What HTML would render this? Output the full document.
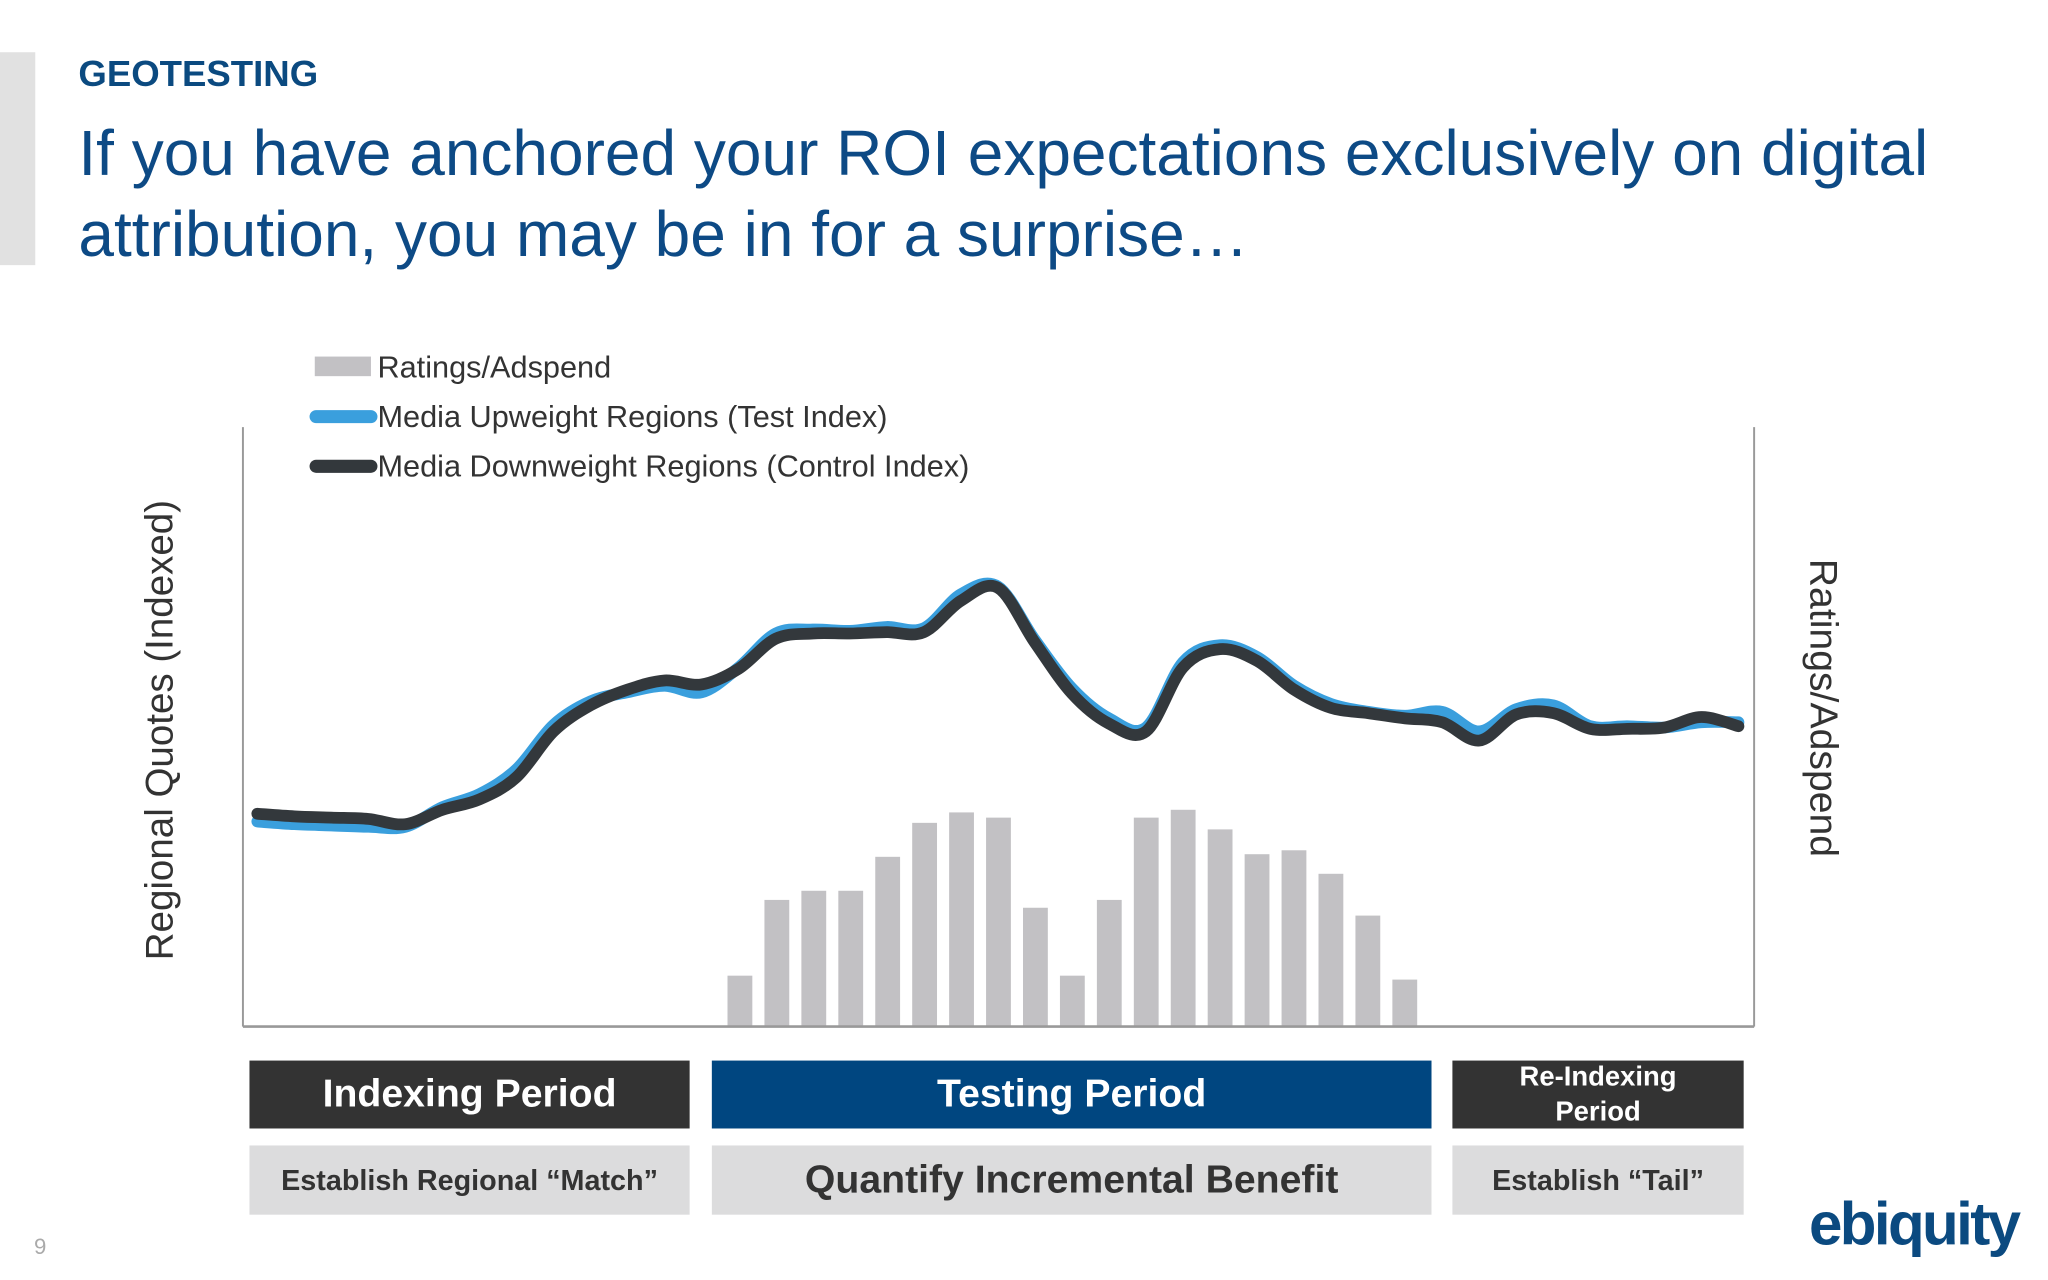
<!DOCTYPE html>
<html><head><meta charset="utf-8"><style>
html,body{margin:0;padding:0;background:#fff;overflow:hidden}
#wrap{position:absolute;left:0;top:0;width:1568px;height:980px;transform:scale(1.30612);transform-origin:0 0;font-family:"Liberation Sans",sans-serif}
.abs{position:absolute}
.box{position:absolute;display:flex;align-items:center;justify-content:center;font-weight:bold;text-align:center}
</style></head><body>
<div id="wrap">
<div class="abs" style="left:0;top:40px;width:27px;height:163px;background:#e1e1e1"></div>
<div class="abs" style="left:60px;top:41px;font-size:28px;font-weight:bold;color:#0b4a80">GEOTESTING</div>
<div class="abs" style="left:60px;top:87px;font-size:49px;line-height:62px;color:#0d4a85;letter-spacing:0px">If you have anchored your ROI expectations exclusively on digital<br>attribution, you may be in for a surprise…</div>

<svg class="abs" style="left:0;top:0" width="1568" height="980">
<g id="legend" font-size="23.5" fill="#333">
<rect x="241" y="273" width="43" height="15" fill="#c2c1c4"/>
<text x="289" y="289">Ratings/Adspend</text>
<line x1="242" y1="319" x2="284" y2="319" stroke="#3a9fdd" stroke-width="10" stroke-linecap="round"/>
<text x="289" y="327">Media Upweight Regions (Test Index)</text>
<line x1="242" y1="357" x2="284" y2="357" stroke="#33383c" stroke-width="10" stroke-linecap="round"/>
<text x="289" y="365">Media Downweight Regions (Control Index)</text>
</g>
<line x1="186" y1="327" x2="186" y2="786" stroke="#999" stroke-width="1.5"/>
<line x1="1343" y1="327" x2="1343" y2="786" stroke="#999" stroke-width="1.5"/>
<g id="bars"></g>
<g id="lines"></g>
<line x1="186" y1="786" x2="1343" y2="786" stroke="#999" stroke-width="2"/>
<text transform="translate(132,559) rotate(-90)" text-anchor="middle" font-size="29.5" fill="#333">Regional Quotes (Indexed)</text>
<text transform="translate(1386,542) rotate(90)" text-anchor="middle" font-size="30" fill="#333">Ratings/Adspend</text>
</svg>

<div class="box" style="left:191px;top:812px;width:337px;height:52px;background:#333;color:#fff;font-size:30px">Indexing Period</div>
<div class="box" style="left:545px;top:812px;width:551px;height:52px;background:#004680;color:#fff;font-size:30px">Testing Period</div>
<div class="box" style="left:1112px;top:812px;width:223px;height:52px;background:#333;color:#fff;font-size:21px;line-height:27px">Re-Indexing<br>Period</div>
<div class="box" style="left:191px;top:877px;width:337px;height:53px;background:#dcdcdd;color:#333;font-size:22px">Establish Regional “Match”</div>
<div class="box" style="left:545px;top:877px;width:551px;height:53px;background:#dcdcdd;color:#333;font-size:30px">Quantify Incremental Benefit</div>
<div class="box" style="left:1112px;top:877px;width:223px;height:53px;background:#dcdcdd;color:#333;font-size:22px">Establish “Tail”</div>
<div class="abs" style="left:26px;top:945px;font-size:17px;color:#aaa">9</div>
<div class="abs" style="left:1385px;top:910px;font-size:46px;font-weight:bold;color:#0b4a80;letter-spacing:-2px">ebiquity</div>
</div>
<script>
const barValues=[39,97,104,104,130,156,164,160,91,39,97,160,166,151,132,135,117,85,36];
const controlValues=[163,161,160,159,155,166,174,191,226,246,258,265,262,274,297,301,301,302,302,326,336,294,255,232,226,275,289,280,258,244,240,236,233,219,239,240,228,228,229,237,230];
const testValues=[157,155,154,153,153,168,178,197,231,249,256,261,256,275,301,304,303,306,305,331,337,296,259,236,229,279,292,283,261,247,241,238,241,226,243,246,230,230,229,233,233];
const NS='http://www.w3.org/2000/svg';
function yScale(v){return 786-v*(459/459);}
function xLine(i){return 197+i*(1331-197)/(controlValues.length-1);}
function xBar(i){return 557+i*28.28;}
const bg=document.getElementById('bars');
barValues.forEach((v,i)=>{
 const r=document.createElementNS(NS,'rect');
 r.setAttribute('x',xBar(i));r.setAttribute('y',yScale(v));
 r.setAttribute('width',19);r.setAttribute('height',786-yScale(v));
 r.setAttribute('fill','#c2c1c4');
 
 
 bg.appendChild(r);
});
function smooth(vals){
 const p=vals.map((v,i)=>[xLine(i),yScale(v)]);
 let d='M'+p[0][0]+','+p[0][1];
 for(let i=0;i<p.length-1;i++){
  const p0=p[Math.max(0,i-1)],p1=p[i],p2=p[i+1],p3=p[Math.min(p.length-1,i+2)];
  const c1=[p1[0]+(p2[0]-p0[0])/6,p1[1]+(p2[1]-p0[1])/6];
  const c2=[p2[0]-(p3[0]-p1[0])/6,p2[1]-(p3[1]-p1[1])/6];
  d+=' C'+c1+' '+c2+' '+p2;
 }
 return d;
}
const lg=document.getElementById('lines');
[[testValues,'#3a9fdd','test-index-line'],[controlValues,'#33383c','control-index-line']].forEach(s=>{
 const pa=document.createElementNS(NS,'path');
 pa.setAttribute('d',smooth(s[0]));
 pa.setAttribute('fill','none');pa.setAttribute('stroke',s[1]);
 pa.setAttribute('stroke-width',9);pa.setAttribute('stroke-linecap','round');pa.setAttribute('stroke-linejoin','round');
 
 
 lg.appendChild(pa);
});
</script>
</body></html>
